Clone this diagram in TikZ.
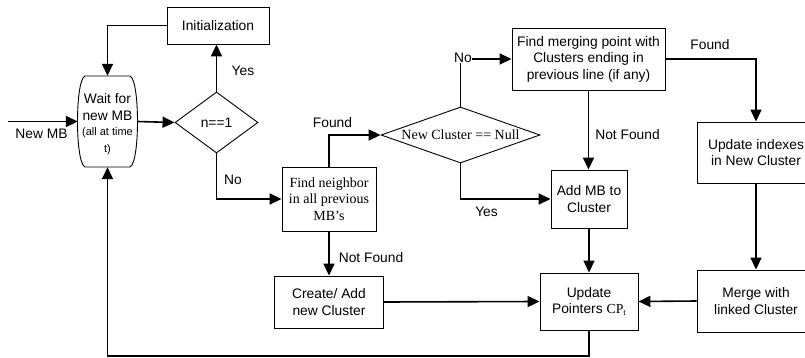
\documentclass[tikz,border=0pt]{standalone}
\usepackage{fontspec}
\setmainfont{Liberation Sans}
\newfontfamily\tms{Liberation Serif}
\usetikzlibrary{arrows.meta,shapes.geometric}
\begin{document}
\begin{tikzpicture}[x=1pt,y=-1pt,
  every node/.style={font=\fontsize{13.8}{16.5}\selectfont},
  box/.style={draw, line width=0.9pt, inner sep=0pt, align=center},
  dia/.style={draw, diamond, line width=0.9pt, inner sep=0pt, align=center},
  serif/.style={font=\tms\fontsize{14}{16.5}\selectfont},
  flow/.style={line width=1.6pt, -{Triangle[length=12pt,width=11pt]}},
  lbl/.style={inner sep=1pt}
]
\useasboundingbox (0,0) rectangle (805,358);
\clip (0,0) rectangle (805,358);

% process boxes and decisions
\node[box, minimum width=102pt, minimum height=37pt] (init) at (218,25.5) {Initialization};
\node[inner sep=0pt, minimum width=59pt, minimum height=91pt] (wait) at (107.5,121.5) {};
\node[inner sep=0pt, align=center] (waittext) at (107.5,124)
  {Wait for\\new MB\\[-1pt]{\fontsize{11}{15}\selectfont (all at time}\\{\fontsize{11}{15}\selectfont t)}};
% barrel outline of the waiting state
\draw[line width=0.9pt] (85,76) -- (130,76) .. controls (140,80) and (140,163) .. (130,167)
  -- (85,167) .. controls (75,163) and (75,80) .. (85,76) -- cycle;
\node[dia, minimum width=83pt, minimum height=61pt, aspect=1.36] (d1) at (216.5,122.5) {n==1};
\node[box, serif, minimum width=94pt, minimum height=64pt] (fn) at (329,199) {Find neighbor\\in all previous\\MB’s};
\node[dia, serif, minimum width=159pt, minimum height=56pt, aspect=2.84] (d2) at (460.5,135) {New Cluster == Null};
\node[box, minimum width=153pt, minimum height=62pt] (fm) at (588.5,59) {Find merging point with\\Clusters ending in\\previous line (if any)};
\node[box, minimum width=76pt, minimum height=58pt] (add) at (589,199) {Add MB to\\Cluster};
\node[box, minimum width=118pt, minimum height=61pt] (ui) at (756,152.5) {Update indexes\\in New Cluster};
\node[box, minimum width=118pt, minimum height=62pt] (merge) at (756,301) {Merge with\\linked Cluster};
\node[box, minimum width=109pt, minimum height=52pt] (create) at (329,302) {Create/ Add\\new Cluster};
\node[box, minimum width=98pt, minimum height=57pt] (up) at (589,301.5)
  {Update\\Pointers {\tms CP\raisebox{-0.3ex}{\fontsize{9}{9}\selectfont t}}};

\coordinate (in) at (8,121.5);
\coordinate (loopL) at (107.5,356);

% connectors
\draw[flow] (init.west) -| (wait.north);
\draw[flow] (in) -- (wait.west);
\draw[flow] (wait.east) -- (d1.west);
\draw[flow] (d1.north) -- (d1.north |- init.south);
\draw[flow] (d1.south) |- (fn.west);
\draw[flow] (fn.north) |- (d2.west);
\draw[flow] (d2.north) |- (fm.west);
\draw[flow] (d2.south) |- (add.west);
\draw[flow] (fm.south) -- (fm.south |- add.north);
\draw[flow] (fm.east) -| (ui.north);
\draw[flow] (ui.south) -- (merge.north);
\draw[flow] (fn.south) -- (create.north);
\draw[flow] (create.east) -- (up.west);
\draw[flow] (merge.west) -- (up.east);
\draw[flow] (add.south) -- (up.north);
\draw[flow] (up.south) |- (loopL) -- (wait.south);

% connector labels
\node[lbl] (lnew) at (41.5,134) {New MB};
\node[lbl] (lyes1) at (243,71) {Yes};
\node[lbl] (lno1) at (233,180) {No};
\node[lbl] (lfound1) at (332.5,122.5) {Found};
\node[lbl, fill=white, inner sep=0.5pt] (lno2) at (463,58) {No};
\node[lbl] (lyes2) at (486.5,212) {Yes};
\node[lbl] (lnf1) at (627.5,135) {Not Found};
\node[lbl] (lfound2) at (710,45) {Found};
\node[lbl] (lnf2) at (371,258) {Not Found};
\end{tikzpicture}
\end{document}
